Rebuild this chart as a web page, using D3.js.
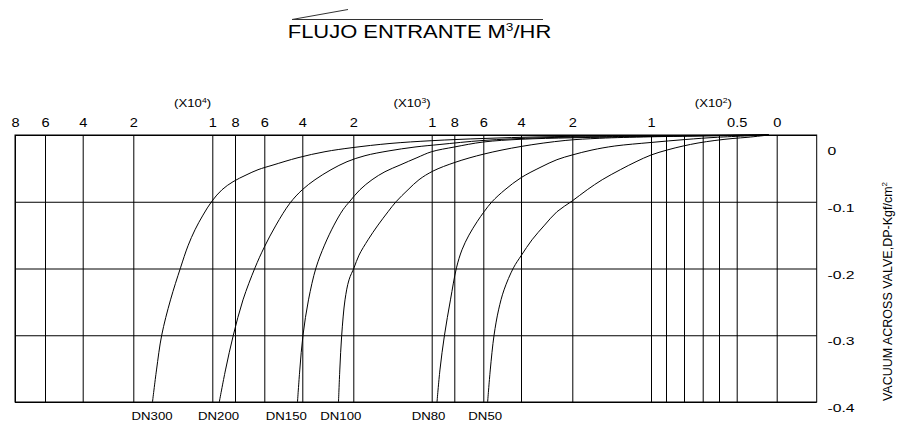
<!DOCTYPE html>
<html>
<head>
<meta charset="utf-8">
<script src="https://cdn.jsdelivr.net/npm/d3@7"></script>
<style>
  body { margin: 0; background: #fff; }
  svg { display: block; }
  text { font-family: "Liberation Sans", Arial, sans-serif; fill: #000; }
</style>
</head>
<body>
<svg id="chart" width="901" height="428"></svg>
<script>
// ---------------- data ----------------
const gridFlows = [80000, 60000, 40000, 20000, 10000, 8000, 6000, 4000, 2000, 1000, 800, 600, 400, 200, 100, 90, 80, 70, 60, 50, 0];
const tickFlows = [80000, 60000, 40000, 20000, 10000, 8000, 6000, 4000, 2000, 1000, 800, 600, 400, 200, 100, 50, 0];
const tickTexts = ["8", "6", "4", "2", "1", "8", "6", "4", "2", "1", "8", "6", "4", "2", "1", "0.5", "0"];
const decadeExps = ["4", "3", "2"];
const decadeAt = [12500, 1250, 63.5];
const dpTicks = [0, -0.1, -0.2, -0.3, -0.4];
const dpTexts = ["0", "-0.1", "-0.2", "-0.3", "-0.4"];
const seriesNames = ["DN300", "DN200", "DN150", "DN100", "DN80", "DN50"];
const labelFlows = [17630, 9450, 4840, 2490, 1040, 590];

// [flow m3/hr, DP kgf/cm2]
const dn300 = [[17570,-0.400],[17063,-0.352],[16405,-0.300],[15290,-0.247],[14025,-0.199],[13075,-0.166],[12189,-0.142],[11176,-0.120],[10040,-0.099],[9145,-0.082],[8176,-0.070],[7249,-0.060],[6430,-0.052],[5542,-0.045],[4226,-0.034],[3110,-0.025],[2051,-0.019],[1532,-0.0127],[1000,-0.0085],[600,-0.0052],[326,-0.0028],[165,-0.0016],[100,-0.0010],[10,0]];
const dn200 = [[9383,-0.400],[8837,-0.352],[8150,-0.300],[7454,-0.247],[6635,-0.199],[6000,-0.168],[5384,-0.135],[4647,-0.102],[4000,-0.082],[3502,-0.067],[2874,-0.052],[2247,-0.040],[1851,-0.031],[1557,-0.024],[1213,-0.018],[927,-0.0142],[602,-0.0082],[326,-0.0042],[165,-0.0027],[100,-0.0016],[10,0]];
const dn150 = [[4253,-0.400],[4132,-0.352],[3973,-0.300],[3757,-0.247],[3463,-0.199],[3129,-0.165],[2757,-0.135],[2404,-0.112],[2129,-0.099],[1915,-0.082],[1761,-0.067],[1596,-0.055],[1404,-0.045],[1188,-0.034],[1000,-0.025],[800,-0.018],[600,-0.0105],[400,-0.0064],[201,-0.0042],[100,-0.0022],[10,0]];
const dn100 = [[2580,-0.400],[2529,-0.352],[2455,-0.300],[2325,-0.247],[2168,-0.217],[1991,-0.199],[1927,-0.180],[1812,-0.157],[1685,-0.135],[1557,-0.115],[1455,-0.100],[1302,-0.082],[1162,-0.067],[988,-0.054],[795,-0.041],[596,-0.0285],[400,-0.0172],[228,-0.0082],[165,-0.0049],[100,-0.0027],[10,0]];
const dn80 = [[953,-0.400],[927,-0.352],[887,-0.300],[834,-0.247],[785,-0.199],[747,-0.172],[699,-0.150],[643,-0.130],[596,-0.115],[554,-0.100],[485,-0.082],[400,-0.064],[322,-0.048],[260,-0.037],[201,-0.030],[175,-0.0225],[146,-0.0165],[100,-0.0112],[79,-0.0067],[61,-0.0034],[10,0]];
const dn50 = [[577,-0.400],[563,-0.352],[543,-0.300],[519,-0.262],[490,-0.232],[440,-0.199],[398,-0.180],[357,-0.157],[308,-0.135],[260,-0.115],[201,-0.099],[181,-0.082],[162,-0.067],[139,-0.052],[119,-0.040],[100,-0.030],[89.4,-0.0225],[80.5,-0.0165],[72.5,-0.012],[62.5,-0.0082],[52.1,-0.0052],[35.9,-0.0034],[10,0]];
const seriesData = [dn300, dn200, dn150, dn100, dn80, dn50];

// ---------------- layout ----------------
const svg = d3.select("#chart");
const plot = { left: 15, top: 135, right: 816.7, bottom: 402 };
// hand-drawn, non-uniform flow axis: piecewise mapping of grid values
const xEdges = gridFlows.concat([-50]);
const xStops = [15, 45, 82.7, 133.3, 212.3, 235, 264.3, 302.3, 353.3, 431.7, 454.3, 483.3, 521, 572.3, 651, 666, 684, 702.7, 719, 736.7, 776.7, 816.7];
const x = d3.scaleLinear().domain(xEdges).range(xStops);
const y = d3.scaleLinear().domain([0, -0.4]).range([plot.top, plot.bottom]);

svg.append("rect").attr("width", 901).attr("height", 428).attr("fill", "#fff");

// vertical grid
const vg = svg.append("g").attr("transform", `translate(0,${plot.bottom})`)
  .call(d3.axisBottom(x).tickValues(gridFlows).tickSize(-(plot.bottom - plot.top)).tickFormat(""));
vg.select(".domain").remove();
vg.selectAll("line").attr("stroke", "#000").attr("stroke-width", 1);

// horizontal grid
const hg = svg.append("g").attr("transform", `translate(${plot.right},0)`)
  .call(d3.axisRight(y).tickValues(dpTicks).tickSize(-(plot.right - plot.left)).tickFormat(""));
hg.select(".domain").remove();
hg.selectAll("line").attr("stroke", "#000").attr("stroke-width", 1);

// frame
svg.append("rect")
  .attr("x", plot.left).attr("y", plot.top)
  .attr("width", plot.right - plot.left).attr("height", plot.bottom - plot.top)
  .attr("fill", "none").attr("stroke", "#000").attr("stroke-width", 1);

// curves
svg.append("clipPath").attr("id", "clip").append("rect")
  .attr("x", plot.left).attr("y", plot.top - 1)
  .attr("width", plot.right - plot.left).attr("height", plot.bottom - plot.top + 1);
const line = d3.line().x(d => x(d[0])).y(d => y(d[1])).curve(d3.curveCatmullRom.alpha(0.5));
svg.append("g").attr("clip-path", "url(#clip)")
  .selectAll("path").data(seriesData).join("path")
  .attr("d", line).attr("fill", "none").attr("stroke", "#000").attr("stroke-width", 1);

// top tick labels
const ta = svg.append("g").attr("transform", `translate(0,130)`)
  .call(d3.axisTop(x).tickValues(tickFlows).tickSize(0).tickFormat((d, i) => tickTexts[i]));
ta.select(".domain").remove();
ta.selectAll("text").attr("font-size", 13.5).attr("fill", "#000")
  .attr("font-family", "'Liberation Sans', Arial, sans-serif")
  .attr("transform", "scale(1.08,1)");

// decade multipliers
const dg = svg.append("g").selectAll("text").data(decadeExps).join("text")
  .attr("font-size", 10).attr("text-anchor", "middle")
  .attr("transform", (d, i) => `translate(${x(decadeAt[i])},106.5) scale(1.32,1)`);
dg.append("tspan").text("(X10");
dg.append("tspan").attr("font-size", 6.5).attr("dy", -4).text(d => d);
dg.append("tspan").attr("dy", 4).text(")");

// right DP labels
svg.append("g").selectAll("text").data(dpTicks).join("text")
  .attr("font-size", 10.5).attr("text-anchor", "start")
  .attr("transform", d => `translate(827.5,${Math.max(y(d) + 10, plot.top + 20)}) scale(1.5,1)`)
  .text((d, i) => dpTexts[i]);

// series labels at bottom
svg.append("g").selectAll("text").data(seriesNames).join("text")
  .attr("font-size", 11.5).attr("text-anchor", "middle")
  .attr("transform", (d, i) => `translate(${x(labelFlows[i])},420) scale(1.15,1)`)
  .text(d => d);

// y axis title
const yt = svg.append("text").attr("font-size", 12.5).attr("text-anchor", "middle")
  .attr("transform", "translate(891.5,291.5) rotate(-90)");
yt.append("tspan").text("VACUUM ACROSS VALVE,DP-Kgf/cm");
yt.append("tspan").attr("font-size", 8).attr("dy", -5).text("2");

// title with overline mark
svg.append("line").attr("x1", 292).attr("y1", 19.5).attr("x2", 543).attr("y2", 19.5)
  .attr("stroke", "#333").attr("stroke-width", 1);
svg.append("line").attr("x1", 292).attr("y1", 19.5).attr("x2", 348).attr("y2", 9.5)
  .attr("stroke", "#333").attr("stroke-width", 1);
const tt = svg.append("text").attr("font-size", 17.7).attr("text-anchor", "middle")
  .attr("transform", "translate(419.5,37.7) scale(1.24,1)");
tt.append("tspan").text("FLUJO ENTRANTE M");
tt.append("tspan").attr("font-size", 11).attr("dy", -7).text("3");
tt.append("tspan").attr("dy", 7).text("/HR");
</script>
</body>
</html>
